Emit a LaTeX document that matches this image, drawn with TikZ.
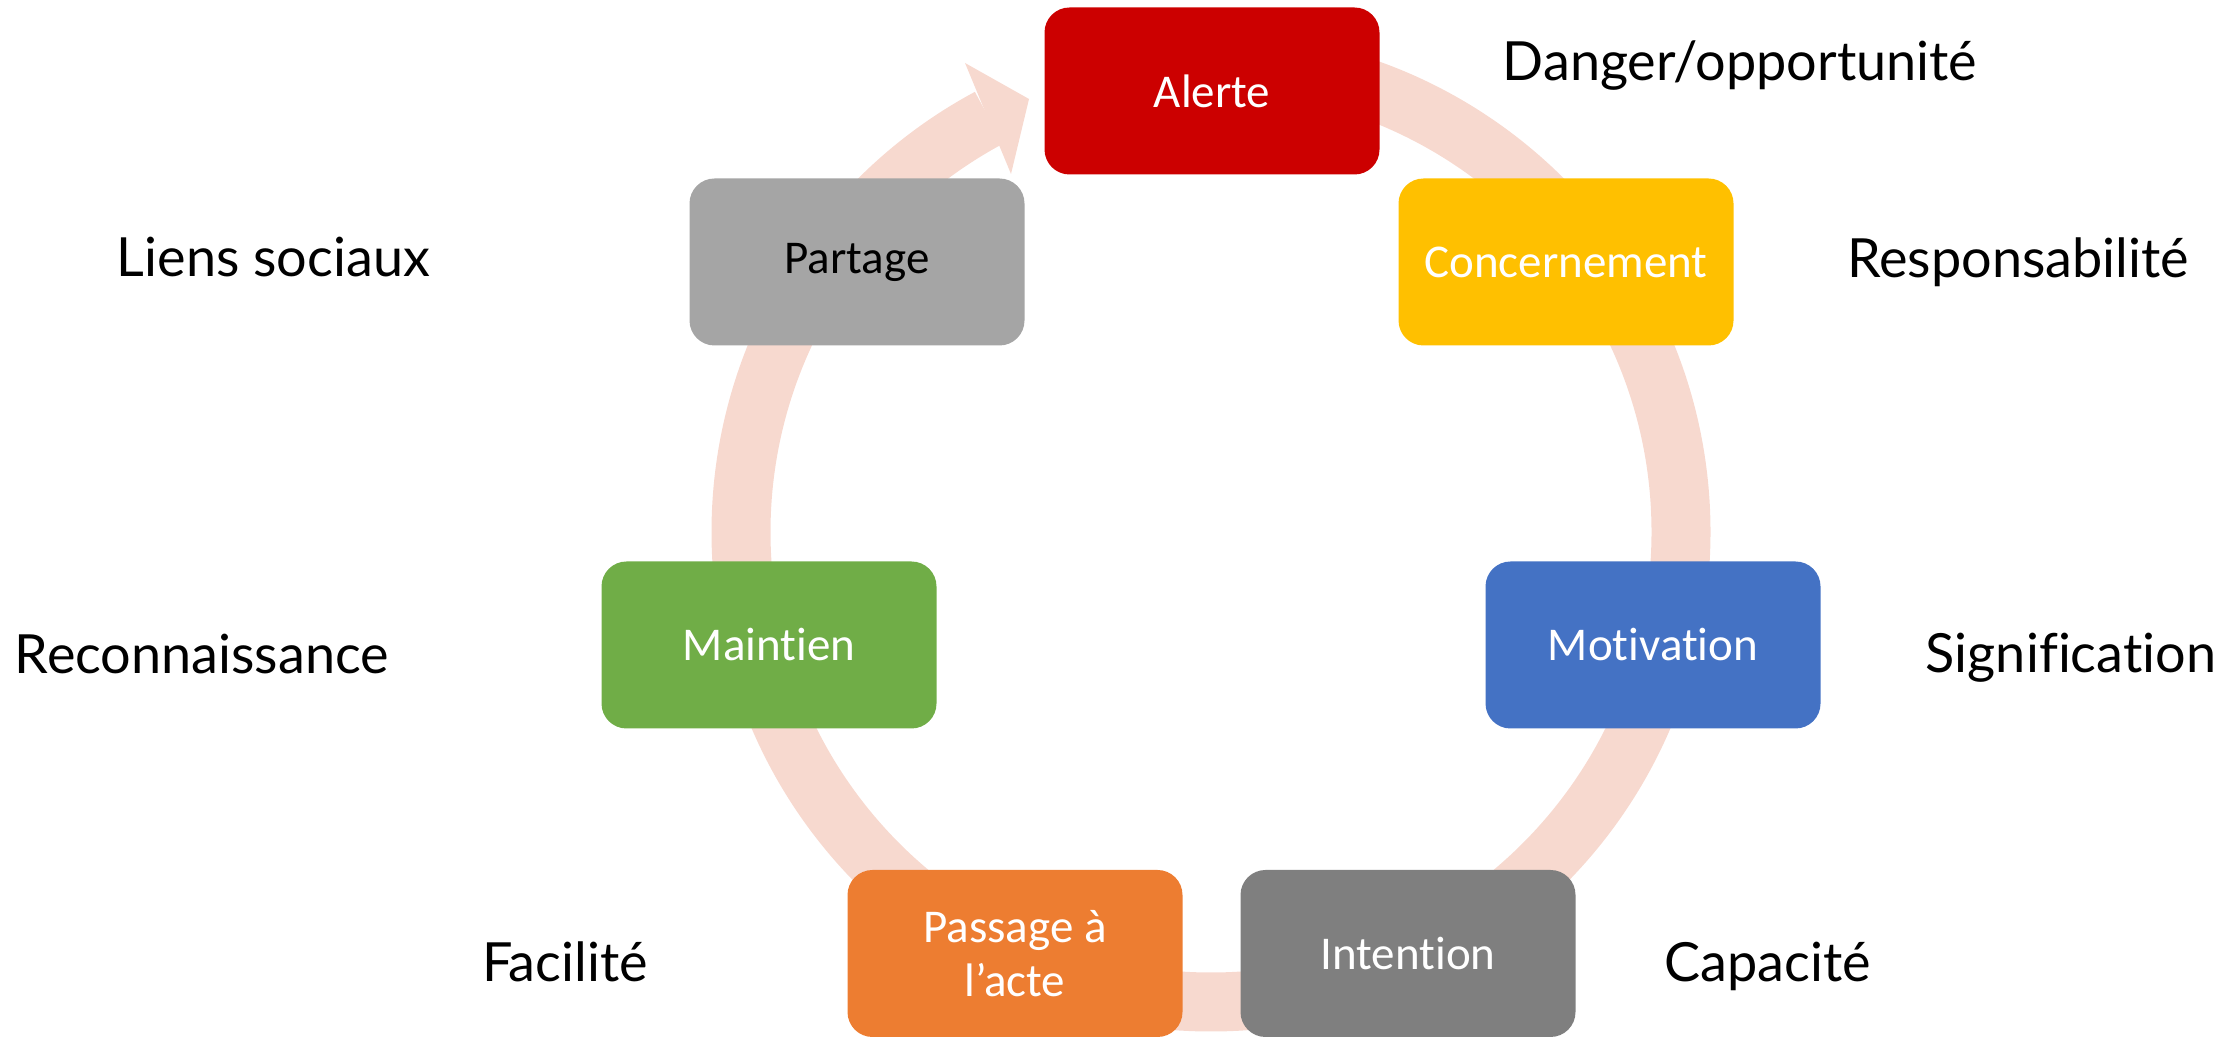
\documentclass[tikz,border=0pt]{standalone}
\usepackage{fontspec}
\usetikzlibrary{calc}
\setmainfont{Carlito}[Ligatures=NoCommon]
\newfontfamily\lblfont{Lato}[Ligatures=NoCommon]
\definecolor{ringc}{HTML}{F7D9CF}
\definecolor{cAlerte}{HTML}{CC0000}
\definecolor{cConc}{HTML}{FFC000}
\definecolor{cMotiv}{HTML}{4472C4}
\definecolor{cInt}{HTML}{7F7F7F}
\definecolor{cPass}{HTML}{ED7D31}
\definecolor{cMaint}{HTML}{70AD47}
\definecolor{cPart}{HTML}{A5A5A5}
\tikzset{
  stage/.style={rectangle, rounded corners=12.5pt, minimum width=167.5pt, minimum height=83.5pt,
    inner sep=0pt, text=white, align=center, font=\fontsize{23.5}{27}\selectfont},
  lbl/.style={anchor=base, inner sep=0pt, font=\lblfont\fontsize{27}{31}\selectfont, text=black},
  ring/.style={draw=ringc, line width=29.5pt}
}
\begin{document}
\begin{tikzpicture}[x=0.5pt, y=0.5pt]
\useasboundingbox (0,0) rectangle (2236,1037);
\coordinate (c) at (1211,505);
% ring
\draw[ring] ($(c)+(90:235pt)$) arc[start angle=90, end angle=-241.8, radius=235pt];
\coordinate (tip) at (1029,938);
\coordinate (bo) at (965,974);
\coordinate (bi) at (1011,863);
\fill[ringc] (bo) -- (tip) -- (bi) -- cycle;
% stages
\node[stage, fill=cAlerte] (alerte) at (1212,946) {Alerte};
\node[stage, fill=cConc] (conc) at (1566,775) {Concernement};
\node[stage, fill=cMotiv] (motiv) at (1653,392) {Motivation};
\node[stage, fill=cInt] (intent) at (1408,83.5) {Intention};
\node[stage, fill=cPass] (pass) at (1015,83.5) {Passage à\\l’acte};
\node[stage, fill=cMaint] (maint) at (769,392) {Maintien};
\node[stage, fill=cPart, text=black] (part) at (857,775) {Partage};
% labels
\node[lbl] (l1) at (1740,956) {Danger/opportunité};
\node[lbl] (l2) at (2018,759) {Responsabilité};
\node[lbl] (l3) at (2071,364) {Signification};
\node[lbl] (l4) at (1768,55) {Capacité};
\node[lbl] (l5) at (565,55) {Facilité};
\node[lbl] (l6) at (202,363) {Reconnaissance};
\node[lbl] (l7) at (273.5,760) {Liens sociaux};
\end{tikzpicture}
\end{document}
